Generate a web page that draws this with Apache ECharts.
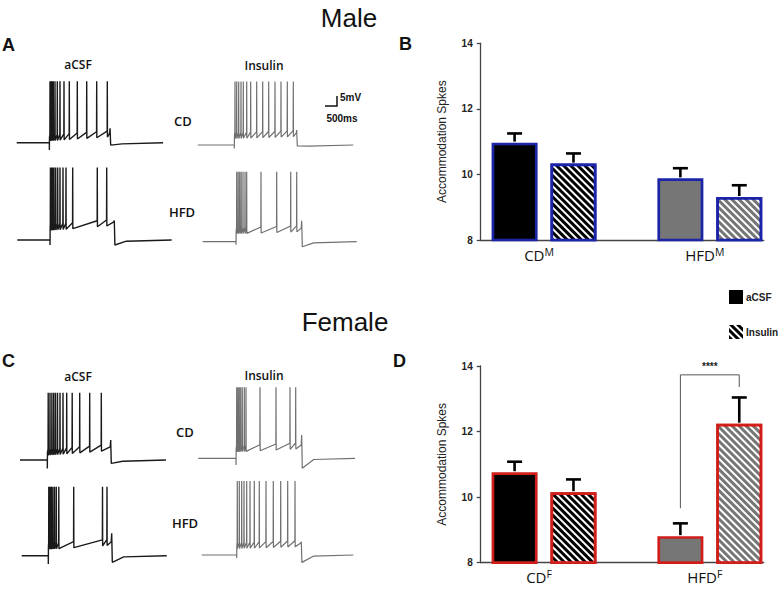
<!DOCTYPE html>
<html><head><meta charset="utf-8">
<script src="https://cdn.jsdelivr.net/npm/echarts@6/dist/echarts.min.js"></script>
<style>html,body{margin:0;padding:0;background:#fff}#c{width:778px;height:590px}</style>
</head><body><div id="c"></div>
<script>
// ================= DATA =================
// Bar charts (Accommodation Spikes, mean and SEM)
const groups = ['CD', 'HFD'];
const maleSup = 'M';
const femaleSup = 'F';
const maleACSF = [10.97, 9.88];
const maleACSFsem = [0.28, 0.31];
const maleIns = [10.33, 9.31];
const maleInsSem = [0.31, 0.36];
const femaleACSF = [10.76, 8.81];
const femaleACSFsem = [0.32, 0.39];
const femaleIns = [10.15, 12.24];
const femaleInsSem = [0.39, 0.80];
const yTickMin = 8, yTickMax = 14, yTickStep = 2;
// significance bracket (female HFD): [group, left low, top, right low]
const femaleBracket = [1, 9.66, 13.73, 13.36];
const femaleSigText = '****';

// Traces: times [onset, offset, end] ms ; levels [rest, plateauStart, plateauEnd, peak, offsetBump, undershoot, onsetDip] mV ; spike times ms
const timesMaleACSF_CD = [1360, 3890, 6100];
const levelsMaleACSF_CD = [-65, -62.3, -60.3, -34.3, -57.8, -66.2, -68.7];
const spikesMaleACSF_CD = [1388, 1429, 1471, 1525, 1596, 1692, 1804, 1971, 2192, 2525, 2917, 3333, 3775];

const timesMaleIns_CD = [1525, 4125, 6483];
const levelsMaleIns_CD = [-65, -60, -59, -33.2, -57.5, -65.5, -66.7];
const spikesMaleIns_CD = [1554, 1625, 1708, 1804, 1900, 2042, 2208, 2458, 2708, 2958, 3221, 3471, 3733, 3983];

const timesMaleACSF_HFD = [1363, 4042, 6433];
const levelsMaleACSF_HFD = [-65, -58.4, -55.9, -28.7, -55.3, -67.5, -67.5];
const spikesMaleACSF_HFD = [1380, 1417, 1475, 1529, 1600, 1683, 1779, 1904, 2029, 2308, 3333, 3725];

const timesMaleIns_HFD = [1388, 4125, 6417];
const levelsMaleIns_HFD = [-65, -59.2, -58.2, -30, -54.5, -67.5, -66.5];
const spikesMaleIns_HFD = [1417, 1479, 1542, 1604, 1679, 1763, 1833, 2429, 3083, 3667, 3917];

const timesFemaleACSF_CD = [1138, 3779, 6083];
const levelsFemaleACSF_CD = [-65, -60.9, -58.4, -31.4, -55, -66.7, -69.2];
const spikesFemaleACSF_CD = [1175, 1250, 1329, 1404, 1479, 1563, 1667, 1792, 1946, 2175, 2488, 2904, 3388];

const timesFemaleIns_CD = [1571, 4308, 6529];
const levelsFemaleIns_CD = [-65, -60, -58.4, -29.5, -53.4, -70, -68.4];
const spikesFemaleIns_CD = [1600, 1654, 1708, 1767, 1833, 1917, 1988, 2571, 3238, 3821, 4058];

const timesFemaleACSF_HFD = [1108, 3750, 6042];
const levelsFemaleACSF_HFD = [-65, -60, -58, -30.5, -53.8, -68.3, -69.2];
const spikesFemaleACSF_HFD = [1129, 1179, 1233, 1296, 1367, 1442, 1546, 2167, 3367, 3554];

const timesFemaleIns_HFD = [1458, 4150, 6317];
const levelsFemaleIns_HFD = [-65, -60, -59, -28, -58.4, -68.7, -66.5];
const spikesFemaleIns_HFD = [1483, 1567, 1667, 1763, 1875, 2013, 2192, 2400, 2679, 2983, 3292, 3583, 3888];

// Scale bar (500 ms, 5 mV), anchored in the male insulin CD trace
const scaleBar = [500, 5];
const scaleBarAnchor = [5304, -45.5];

// ================= BUILD =================
function buildTrace(times, levels, spikes) {
  const [onset, offset, end] = times;
  const [rest, p0, p1, peak, bump, under, dip] = levels;
  const plat = t => p0 + (p1 - p0) * (t - onset) / (offset - onset);
  const pts = [[0, rest], [onset, rest], [onset + 1, dip], [onset + 6, p0]];
  spikes.forEach(s => {
    pts.push([s - 6, plat(s) + 1.2]);
    pts.push([s, peak]);
    pts.push([s + 6, plat(s) - 1.8]);
  });
  pts.push([offset - 20, p1]);
  pts.push([offset, bump]);
  pts.push([offset + 25, under]);
  pts.push([offset + 500, rest - 0.6]);
  pts.push([end, rest]);
  return pts;
}

const BLUE = '#1c24a8', RED = '#d01e1a';
const GREY = '#767676';
const AXIS = '#444';
const BAR_W = 46, BAR_GAP = 0.28;
const HALF = (BAR_W + BAR_W * BAR_GAP) / 2;
const stripe = { symbol: 'rect', symbolSize: 1, dashArrayX: [1, 0], dashArrayY: [1.9, 2.8], rotation: Math.PI / 4, color: '#ffffff' };

const traceDefs = [
  // [times, levels, spikes, gridLeft, gridTop, color, width]
  [timesMaleACSF_CD, levelsMaleACSF_CD, spikesMaleACSF_CD, 16.7, 62.7, '#1a1a1a', 1.4],
  [timesMaleIns_CD, levelsMaleIns_CD, spikesMaleIns_CD, 197.7, 65, '#707070', 1.2],
  [timesMaleACSF_HFD, levelsMaleACSF_HFD, spikesMaleACSF_HFD, 17.3, 160, '#1a1a1a', 1.4],
  [timesMaleIns_HFD, levelsMaleIns_HFD, spikesMaleIns_HFD, 202.7, 161.7, '#707070', 1.2],
  [timesFemaleACSF_CD, levelsFemaleACSF_CD, spikesFemaleACSF_CD, 20, 380, '#1a1a1a', 1.4],
  [timesFemaleIns_CD, levelsFemaleIns_CD, spikesFemaleIns_CD, 198.3, 378.3, '#707070', 1.2],
  [timesFemaleACSF_HFD, levelsFemaleACSF_HFD, spikesFemaleACSF_HFD, 21.7, 475.7, '#1a1a1a', 1.4],
  [timesFemaleIns_HFD, levelsFemaleIns_HFD, spikesFemaleIns_HFD, 201.7, 475, '#707070', 1.2]
];

const grids = [], xAxes = [], yAxes = [], series = [];
traceDefs.forEach((d, i) => {
  grids.push({ left: d[3], top: d[4], width: 158.4, height: 100 });
  xAxes.push({ gridIndex: i, type: 'value', min: 0, max: 6600, show: false });
  yAxes.push({ gridIndex: i, type: 'value', min: -75, max: -25, show: false });
  series.push({
    type: 'line', xAxisIndex: i, yAxisIndex: i, data: buildTrace(d[0], d[1], d[2]),
    showSymbol: false, symbol: 'none', lineStyle: { color: d[5], width: d[6] }, silent: true, z: 2
  });
});
// scale bar on trace grid 1
series.push({
  type: 'custom', xAxisIndex: 1, yAxisIndex: 1, silent: true,
  data: [[scaleBarAnchor[0], scaleBarAnchor[1], scaleBar[0], scaleBar[1]]],
  renderItem: (p, api) => {
    const a = api.coord([api.value(0), api.value(1)]);
    const b = api.coord([api.value(0) + api.value(2), api.value(1)]);
    const c = api.coord([api.value(0) + api.value(2), api.value(1) + api.value(3)]);
    return { type: 'polyline', shape: { points: [a, b, c] }, style: { stroke: '#111', lineWidth: 1.5, fill: null } };
  }
});

function barPanel(idx, top, sup, aVals, aSem, iVals, iSem, border) {
  const gi = grids.length;
  grids.push({ left: 480.7, top: top, width: 283, height: 196.7 });
  xAxes.push({
    gridIndex: gi, type: 'value', min: -0.382, max: 1.325,
    axisLine: { show: true, onZero: false, lineStyle: { color: AXIS, width: 1.3 } },
    axisTick: { show: false }, splitLine: { show: false },
    axisLabel: {
      customValues: [0, 1], margin: 6, padding: [0, 10, 0, 0],
      formatter: v => '{b|' + groups[Math.round(v)] + '}{s|' + sup + '}',
      rich: {
        b: { fontSize: 15, fontFamily: 'Open Sans', color: '#111', lineHeight: 17 },
        s: { fontSize: 10.5, fontFamily: 'Open Sans', color: '#111', lineHeight: 11, verticalAlign: 'top' }
      }
    }
  });
  yAxes.push({
    gridIndex: gi, type: 'value', min: yTickMin, max: yTickMax, interval: yTickStep,
    axisLine: { show: true, onZero: false, lineStyle: { color: AXIS, width: 1.3 } },
    axisTick: { show: true, length: 4, lineStyle: { color: AXIS, width: 1.3 } },
    splitLine: { show: false },
    axisLabel: { margin: 8, fontSize: 10, fontWeight: 'bold', fontFamily: 'Liberation Sans', color: '#222' },
    name: 'Accommodation Spkes', nameLocation: 'middle', nameGap: 33,
    nameTextStyle: { fontSize: 12, fontFamily: 'Liberation Sans', color: '#222' }
  });
  const fills = ['#000000', GREY];
  series.push({
    type: 'bar', name: 'aCSF', xAxisIndex: gi, yAxisIndex: gi, barWidth: BAR_W, barGap: (BAR_GAP * 100) + '%',
    data: aVals.map((v, k) => ({ value: [k, v], itemStyle: { color: fills[k] } })),
    itemStyle: { borderColor: border, borderWidth: 2.7 }, z: 2
  });
  series.push({
    type: 'bar', name: 'Insulin', xAxisIndex: gi, yAxisIndex: gi, barWidth: BAR_W, barGap: (BAR_GAP * 100) + '%',
    data: iVals.map((v, k) => ({ value: [k, v], itemStyle: { color: fills[k], decal: stripe } })),
    itemStyle: { borderColor: border, borderWidth: 2.7 }, z: 2
  });
  const errData = [];
  aVals.forEach((v, k) => errData.push([k, v, aSem[k], -1]));
  iVals.forEach((v, k) => errData.push([k, v, iSem[k], 1]));
  series.push({
    type: 'custom', xAxisIndex: gi, yAxisIndex: gi, silent: true, z: 3, data: errData,
    renderItem: (p, api) => {
      const base = api.coord([api.value(0), api.value(1)]);
      const top = api.coord([api.value(0), api.value(1) + api.value(2)]);
      const x = base[0] + api.value(3) * HALF;
      return { type: 'group', children: [
        { type: 'line', shape: { x1: x, y1: base[1] - 1, x2: x, y2: top[1] }, style: { stroke: '#000', lineWidth: 2.6 } },
        { type: 'line', shape: { x1: x - 7.5, y1: top[1], x2: x + 7.5, y2: top[1] }, style: { stroke: '#000', lineWidth: 2.6 } }
      ] };
    }
  });
  return gi;
}

barPanel(0, 43.3, maleSup, maleACSF, maleACSFsem, maleIns, maleInsSem, BLUE);
const gD = barPanel(1, 366, femaleSup, femaleACSF, femaleACSFsem, femaleIns, femaleInsSem, RED);
series.push({
  type: 'custom', xAxisIndex: gD, yAxisIndex: gD, silent: true, z: 4,
  data: [femaleBracket],
  renderItem: (p, api) => {
    const g = api.value(0);
    const l0 = api.coord([g, api.value(1)]);
    const t = api.coord([g, api.value(2)]);
    const r0 = api.coord([g, api.value(3)]);
    const xl = l0[0] - HALF, xr = l0[0] + HALF;
    return { type: 'group', children: [
      { type: 'polyline', shape: { points: [[xl, l0[1]], [xl, t[1]], [xr, t[1]], [xr, r0[1]]] }, style: { stroke: '#555', lineWidth: 1, fill: null } },
      { type: 'text', x: (xl + xr) / 2, y: t[1] - 3, style: { text: femaleSigText, textAlign: 'center', textVerticalAlign: 'bottom', font: 'bold 10px "Liberation Sans"', fill: '#222' } }
    ] };
  }
});

function txt(text, x, y, font, align, color) {
  return { type: 'text', x: x, y: y, silent: true,
    style: { text: text, font: font, textAlign: align || 'center', textVerticalAlign: 'middle', fill: color || '#111' } };
}
const F_TITLE = '26px "Liberation Sans"';
const F_LET = 'bold 18px "Liberation Sans"';
const F_COND = '600 12px "Open Sans"';
const F_DIET = '600 13px "Open Sans"';
const F_SB = 'bold 10px "Liberation Sans"';

const option = {
  animation: false,
  backgroundColor: '#ffffff',
  grid: grids, xAxis: xAxes, yAxis: yAxes, series: series,
  legend: {
    left: 729, top: 290, orient: 'vertical', itemGap: 21, itemWidth: 14, itemHeight: 14, padding: 0,
    selectedMode: false, itemStyle: { borderWidth: 0 },
    textStyle: { fontSize: 10, fontWeight: 'bold', fontFamily: 'Liberation Sans', color: '#222', padding: [0, 0, 0, -2] },
    data: [
      { name: 'aCSF', icon: 'rect', itemStyle: { color: '#000', borderWidth: 0 } },
      { name: 'Insulin', icon: 'rect', itemStyle: { color: '#000', borderWidth: 0, decal: stripe } }
    ]
  },
  graphic: [
    txt('Male', 349, 18, F_TITLE),
    txt('Female', 345, 322, F_TITLE),
    txt('A', 2, 45, F_LET, 'left'),
    txt('B', 399, 44, F_LET, 'left'),
    txt('C', 2, 361, F_LET, 'left'),
    txt('D', 393, 361, F_LET, 'left'),
    txt('aCSF', 78, 64, F_COND),
    txt('Insulin', 264, 65, F_COND),
    txt('CD', 183, 121, F_DIET),
    txt('HFD', 182, 212, F_DIET),
    txt('aCSF', 78, 376, F_COND),
    txt('Insulin', 264, 375, F_COND),
    txt('CD', 185, 432, F_DIET),
    txt('HFD', 185, 523, F_DIET),
    txt('5mV', 340, 97, F_SB, 'left'),
    txt('500ms', 342, 118, F_SB, 'center')
  ]
};

const chart = echarts.init(document.getElementById('c'), null, { renderer: 'svg', width: 778, height: 590 });
chart.setOption(option);
</script>
</body></html>
